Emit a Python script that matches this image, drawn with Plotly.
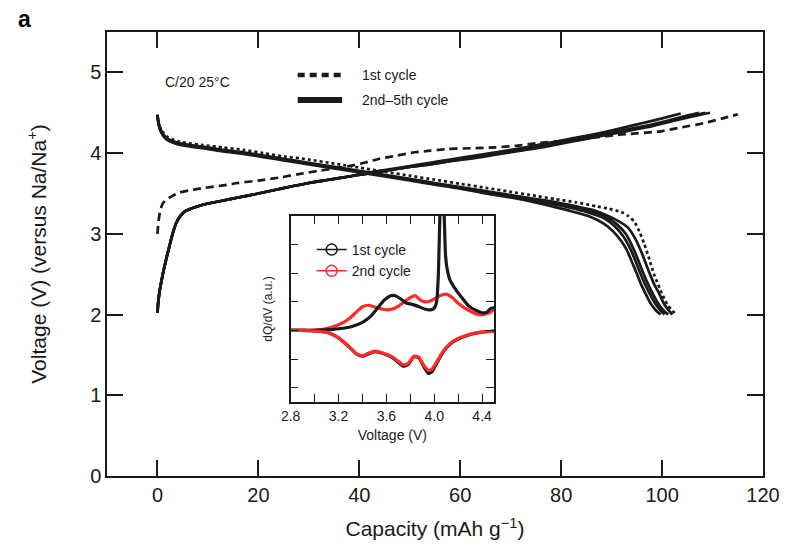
import plotly.graph_objects as go

# ---- Galvanostatic charge/discharge curves (capacity in mAh/g, voltage in V) ----
# 1st cycle charge
cap_c1 = [0, 0.2, 0.5, 1, 1.7, 3, 4.3, 6.5, 9.5, 13, 16, 20, 24.5, 28, 33, 38, 41, 44,
          47.5, 51, 54, 57.5, 62, 67, 71, 75, 80, 86, 92, 99.7, 104, 108.2, 112, 115]
v_c1 = [3.0, 3.15, 3.27, 3.37, 3.42, 3.47, 3.51, 3.54, 3.57, 3.6, 3.63, 3.66, 3.70, 3.74,
        3.79, 3.84, 3.88, 3.93, 3.97, 4.01, 4.03, 4.05, 4.06, 4.07, 4.09, 4.12, 4.15, 4.19,
        4.23, 4.27, 4.32, 4.37, 4.43, 4.48]

# 2nd-5th cycle charges
cap_c2 = [0, 0.15, 0.4, 0.8, 1.3, 1.9, 2.5, 3.1, 3.7, 4.4, 5.5, 7, 9, 12.8, 16, 19.3, 23, 26,
          30, 34, 38, 41, 45, 50, 54, 58, 62, 67, 72, 77, 82, 87, 92, 97, 101, 105, 109.5]
v_c2 = [2.02, 2.15, 2.28, 2.42, 2.57, 2.73, 2.88, 3.02, 3.13, 3.21, 3.28, 3.32, 3.36, 3.41,
        3.45, 3.49, 3.54, 3.58, 3.63, 3.67, 3.71, 3.74, 3.78, 3.83, 3.86, 3.9, 3.93, 3.98,
        4.03, 4.08, 4.14, 4.2, 4.26, 4.32, 4.38, 4.44, 4.5]

cap_c3 = [0, 0.15, 0.4, 0.8, 1.3, 1.9, 2.5, 3.1, 3.7, 4.4, 5.5, 7, 9, 12.8, 16, 19.3, 23, 26,
          30, 34, 38, 41, 45, 50, 54, 58, 62, 67, 72, 77, 82, 87, 92, 97, 101, 105, 108.6]
v_c3 = [2.02, 2.15, 2.28, 2.42, 2.57, 2.73, 2.88, 3.02, 3.13, 3.21, 3.28, 3.32, 3.36, 3.41,
        3.45, 3.49, 3.54, 3.58, 3.63, 3.67, 3.71, 3.74, 3.78, 3.83, 3.86, 3.9, 3.94, 3.99,
        4.04, 4.09, 4.15, 4.21, 4.27, 4.33, 4.39, 4.45, 4.5]

cap_c4 = [0, 0.15, 0.4, 0.8, 1.3, 1.9, 2.5, 3.1, 3.7, 4.4, 5.5, 7, 9, 12.8, 16, 19.3, 23, 26,
          30, 34, 38, 41, 45, 50, 54, 58, 62, 67, 72, 77, 82, 87, 92, 97, 101, 104, 107.3]
v_c4 = [2.02, 2.15, 2.28, 2.42, 2.57, 2.73, 2.88, 3.02, 3.13, 3.21, 3.28, 3.32, 3.36, 3.41,
        3.45, 3.49, 3.54, 3.58, 3.63, 3.67, 3.71, 3.74, 3.78, 3.83, 3.87, 3.91, 3.94, 3.99,
        4.04, 4.1, 4.16, 4.22, 4.28, 4.34, 4.4, 4.45, 4.5]

cap_c5 = [0, 0.15, 0.4, 0.8, 1.3, 1.9, 2.5, 3.1, 3.7, 4.4, 5.5, 7, 9, 12.8, 16, 19.3, 23, 26,
          30, 34, 38, 41, 45, 50, 54, 58, 62, 67, 72, 77, 82, 87, 92, 96, 100, 103.7]
v_c5 = [2.02, 2.15, 2.28, 2.42, 2.57, 2.73, 2.88, 3.02, 3.13, 3.21, 3.28, 3.32, 3.36, 3.41,
        3.45, 3.49, 3.54, 3.58, 3.63, 3.67, 3.71, 3.75, 3.79, 3.84, 3.88, 3.92, 3.96, 4.01,
        4.06, 4.12, 4.18, 4.24, 4.31, 4.37, 4.43, 4.49]

# 1st cycle discharge
cap_d1 = [0, 0.15, 0.4, 0.8, 1.3, 2, 3, 4.5, 6.5, 9, 13, 17, 21, 25, 30, 35, 40, 45, 50, 55,
          60, 65, 70, 75, 78.8, 83, 87, 89.5, 91.9, 93.3, 94.5, 95.5, 96.5, 97.5, 98.4, 99.5,
          100.4, 101.2, 102, 102.8]
v_d1 = [4.48, 4.41, 4.34, 4.28, 4.24, 4.20, 4.17, 4.14, 4.12, 4.10, 4.07, 4.04, 4.00, 3.96,
        3.92, 3.87, 3.82, 3.77, 3.72, 3.67, 3.62, 3.57, 3.52, 3.47, 3.43, 3.39, 3.34, 3.31,
        3.27, 3.22, 3.15, 3.03, 2.87, 2.68, 2.5, 2.33, 2.2, 2.11, 2.05, 2.0]

# 2nd-5th cycle discharges
cap_d2 = [0, 0.15, 0.4, 0.8, 1.3, 2, 3, 4.5, 6.5, 9, 13, 17, 21, 25, 30, 35, 40, 45, 50, 55,
          60, 65, 70, 75, 79, 83, 86, 88.6, 91, 93.2, 94.6, 95.8, 97.1, 98.4, 99.5, 100.4,
          101.2, 102]
v_d2 = [4.47, 4.40, 4.33, 4.27, 4.22, 4.18, 4.15, 4.12, 4.10, 4.08, 4.04, 4.01, 3.97, 3.93,
        3.88, 3.83, 3.78, 3.73, 3.68, 3.63, 3.58, 3.53, 3.48, 3.43, 3.39, 3.34, 3.30, 3.24,
        3.17, 3.08, 2.95, 2.79, 2.58, 2.38, 2.25, 2.13, 2.06, 2.0]

cap_d3 = [0, 0.15, 0.4, 0.8, 1.3, 2, 3, 4.5, 6.5, 9, 13, 17, 21, 25, 30, 35, 40, 45, 50, 55,
          60, 65, 70, 75, 79, 82, 85, 88.6, 91, 92.8, 94, 95.1, 96.1, 97.2, 98.3, 99.4,
          100.3, 101.2]
v_d3 = [4.47, 4.40, 4.32, 4.26, 4.21, 4.17, 4.14, 4.11, 4.09, 4.07, 4.03, 4.0, 3.96, 3.92,
        3.87, 3.82, 3.77, 3.72, 3.67, 3.62, 3.57, 3.52, 3.47, 3.42, 3.37, 3.34, 3.30, 3.22,
        3.12, 3.0, 2.86, 2.7, 2.54, 2.38, 2.24, 2.12, 2.05, 2.0]

cap_d4 = [0, 0.15, 0.4, 0.8, 1.3, 2, 3, 4.5, 6.5, 9, 13, 17, 21, 25, 30, 35, 40, 45, 50, 55,
          60, 65, 70, 75, 79, 82, 85, 88.6, 90.5, 92.3, 93.5, 94.5, 95.5, 96.6, 97.7, 98.8,
          99.7, 100.5]
v_d4 = [4.47, 4.39, 4.32, 4.26, 4.21, 4.17, 4.14, 4.11, 4.09, 4.07, 4.03, 4.0, 3.96, 3.92,
        3.87, 3.82, 3.77, 3.72, 3.67, 3.62, 3.57, 3.51, 3.46, 3.41, 3.36, 3.32, 3.27, 3.19,
        3.1, 2.97, 2.84, 2.7, 2.54, 2.38, 2.24, 2.12, 2.05, 2.0]

cap_d5 = [0, 0.15, 0.4, 0.8, 1.3, 2, 3, 4.5, 6.5, 9, 13, 17, 21, 25, 30, 35, 40, 45, 50, 55,
          60, 65, 70, 74, 78.8, 82, 85.4, 88.6, 90.3, 91.9, 93, 93.9, 94.9, 95.8, 96.8, 97.8,
          98.8, 99.7]
v_d5 = [4.47, 4.39, 4.31, 4.25, 4.20, 4.16, 4.13, 4.10, 4.08, 4.06, 4.02, 3.99, 3.95, 3.91,
        3.86, 3.81, 3.76, 3.71, 3.66, 3.61, 3.56, 3.50, 3.45, 3.40, 3.33, 3.28, 3.22, 3.12,
        3.03, 2.91, 2.80, 2.67, 2.52, 2.38, 2.25, 2.13, 2.05, 2.0]

# ---- Differential capacity (inset), arbitrary units ----
v_chg_1 = [2.8, 2.9, 3.0, 3.1, 3.2, 3.3, 3.4, 3.47, 3.53, 3.58, 3.63, 3.67, 3.72, 3.77, 3.81,
           3.86, 3.92, 3.97, 4.0, 4.02, 4.035, 4.05, 4.065, 4.08, 4.095, 4.11, 4.13, 4.18,
           4.24, 4.29, 4.35, 4.40, 4.44, 4.47, 4.5]
dq_chg_1 = [0, 0, 0, 0.02, 0.06, 0.12, 0.28, 0.5, 0.8, 1.05, 1.2, 1.22, 1.1, 0.95, 0.92,
            0.85, 0.75, 0.72, 0.78, 1.0, 2.0, 4.5, 6.0, 4.5, 2.6, 2.1, 1.78, 1.43, 1.1, 0.85,
            0.7, 0.62, 0.64, 0.76, 0.8]
v_chg_2 = [2.8, 2.9, 3.0, 3.05, 3.1, 3.15, 3.2, 3.25, 3.3, 3.35, 3.4, 3.45, 3.5, 3.55, 3.6,
           3.65, 3.7, 3.75, 3.8, 3.84, 3.88, 3.92, 3.96, 4.0, 4.05, 4.1, 4.15, 4.2, 4.25, 4.3,
           4.35, 4.4, 4.45, 4.5]
dq_chg_2 = [0, 0, 0.01, 0.03, 0.07, 0.12, 0.2, 0.3, 0.45, 0.65, 0.83, 0.88, 0.82, 0.76, 0.72,
            0.75, 0.85, 1.0, 1.15, 1.22, 1.08, 1.0, 1.02, 1.1, 1.22, 1.27, 1.15, 0.95, 0.8,
            0.68, 0.58, 0.55, 0.6, 0.73]
v_dis_1 = [2.8, 2.9, 3.0, 3.1, 3.15, 3.2, 3.25, 3.3, 3.35, 3.4, 3.45, 3.5, 3.55, 3.6, 3.65,
           3.7, 3.74, 3.78, 3.83, 3.87, 3.91, 3.95, 3.98, 4.02, 4.06, 4.1, 4.15, 4.2, 4.3,
           4.4, 4.5]
dq_dis_1 = [0, 0, -0.02, -0.06, -0.14, -0.26, -0.43, -0.62, -0.82, -0.9, -0.82, -0.74, -0.78,
            -0.85, -0.95, -1.12, -1.25, -1.2, -0.92, -0.95, -1.25, -1.5, -1.45, -1.15, -0.85,
            -0.62, -0.42, -0.3, -0.14, -0.06, -0.02]
v_dis_2 = [2.8, 2.9, 3.0, 3.1, 3.15, 3.2, 3.25, 3.3, 3.35, 3.4, 3.45, 3.5, 3.55, 3.6, 3.65,
           3.7, 3.74, 3.78, 3.83, 3.87, 3.91, 3.95, 3.98, 4.02, 4.06, 4.1, 4.15, 4.2, 4.3,
           4.4, 4.5]
dq_dis_2 = [0, 0, -0.02, -0.06, -0.14, -0.26, -0.43, -0.62, -0.82, -0.88, -0.8, -0.72, -0.76,
            -0.83, -0.92, -1.08, -1.2, -1.16, -0.9, -0.93, -1.2, -1.4, -1.36, -1.1, -0.82,
            -0.6, -0.4, -0.28, -0.13, -0.06, -0.02]

main_xticks = [0, 20, 40, 60, 80, 100, 120]
main_yticks = [0, 1, 2, 3, 4, 5]
inset_xticks = [2.8, 3.2, 3.6, 4.0, 4.4]

FONT = "Liberation Sans, Arial, Helvetica, sans-serif"
INK = "#1a1a1a"
RED = "#ff2a2a"

fig = go.Figure()

# main curves: charges and discharges of cycles 2-5 (solid)
for cx, vy in [(cap_c2, v_c2), (cap_c3, v_c3), (cap_c4, v_c4), (cap_c5, v_c5),
               (cap_d2, v_d2), (cap_d3, v_d3), (cap_d4, v_d4), (cap_d5, v_d5)]:
    fig.add_trace(go.Scatter(x=cx, y=vy, mode="lines", showlegend=False,
                             line=dict(color=INK, width=2.7, shape="spline", smoothing=0.6)))

# 1st cycle (dashed charge, dotted discharge)
fig.add_trace(go.Scatter(x=cap_c1, y=v_c1, mode="lines", showlegend=False,
                         line=dict(color=INK, width=2.7, dash="8px,5px",
                                   shape="spline", smoothing=0.6)))
fig.add_trace(go.Scatter(x=cap_d1, y=v_d1, mode="lines", showlegend=False,
                         line=dict(color=INK, width=2.7, dash="3px,3px",
                                   shape="spline", smoothing=0.6)))

# inset dQ/dV curves
for vx, dq, col in [(v_chg_2, dq_chg_2, RED), (v_chg_1, dq_chg_1, INK),
                    (v_dis_1, dq_dis_1, INK), (v_dis_2, dq_dis_2, RED)]:
    fig.add_trace(go.Scatter(x=vx, y=dq, mode="lines", xaxis="x2", yaxis="y2",
                             showlegend=False, cliponaxis=True,
                             line=dict(color=col, width=3.2, shape="spline", smoothing=0.5)))

# inset legend entries
fig.add_trace(go.Scatter(x=[None], y=[None], mode="lines+markers", name="1st cycle",
                         xaxis="x2", yaxis="y2", legend="legend2",
                         line=dict(color=INK, width=1.5),
                         marker=dict(symbol="circle-open", size=11, color=INK,
                                     line=dict(width=1.5))))
fig.add_trace(go.Scatter(x=[None], y=[None], mode="lines+markers", name="2nd cycle",
                         xaxis="x2", yaxis="y2", legend="legend2",
                         line=dict(color=RED, width=1.5),
                         marker=dict(symbol="circle-open", size=11, color=RED,
                                     line=dict(width=1.5))))

axis_common = dict(showgrid=False, zeroline=False, showline=True, linecolor=INK,
                   linewidth=1.5, ticks="inside", mirror="ticks", tickcolor=INK)

fig.update_layout(
    width=792, height=549,
    margin=dict(l=107, r=21, t=32, b=73),
    paper_bgcolor="white", plot_bgcolor="white",
    font=dict(family=FONT, color=INK),
    xaxis=dict(range=[-10, 120], tickvals=main_xticks,
               ticklen=16, tickwidth=1.5, tickfont=dict(size=20),
               title=dict(text="Capacity (mAh g<sup>−1</sup>)", font=dict(size=21),
                          standoff=17),
               **axis_common),
    yaxis=dict(range=[0, 5.5], tickvals=main_yticks,
               ticklen=16, tickwidth=1.5, tickfont=dict(size=20),
               title=dict(text="Voltage (V) (versus Na/Na<sup>+</sup>)", font=dict(size=21),
                          standoff=38),
               **axis_common),
    xaxis2=dict(domain=[0.280, 0.590], anchor="y2", range=[2.8, 4.5],
                tickvals=inset_xticks, tickformat=".1f", ticklen=8, tickwidth=1.2,
                tickfont=dict(size=14),
                minor=dict(tick0=2.8, dtick=0.2, ticks="inside", ticklen=8,
                           tickwidth=1.2, tickcolor=INK),
                title=dict(text="Voltage (V)", font=dict(size=14), standoff=8),
                **axis_common),
    yaxis2=dict(domain=[0.1667, 0.5856], anchor="x2", range=[-2.5, 4], dtick=1,
                showticklabels=False, ticklen=8, tickwidth=1.2,
                title=dict(text="dQ/dV (a.u.)", font=dict(size=12), standoff=14),
                **axis_common),
    showlegend=True,
    legend2=dict(x=0.312, y=0.545, xanchor="left", yanchor="top",
                 bgcolor="rgba(0,0,0,0)", font=dict(size=14, color=INK),
                 tracegroupgap=0, itemwidth=30),
)

# main legend keys and labels
fig.add_shape(type="line", xref="paper", yref="paper", x0=0.2907, x1=0.3584,
              y0=0.9032, y1=0.9032, line=dict(color=INK, width=4.5, dash="7px,5px"))
fig.add_shape(type="line", xref="paper", yref="paper", x0=0.2907, x1=0.3584,
              y0=0.8468, y1=0.8468, line=dict(color=INK, width=6))
fig.add_annotation(text="1st cycle", xref="paper", yref="paper", x=0.385, y=0.9032,
                   xanchor="left", yanchor="middle", showarrow=False,
                   font=dict(size=14, color=INK))
fig.add_annotation(text="2nd–5th cycle", xref="paper", yref="paper", x=0.385, y=0.8468,
                   xanchor="left", yanchor="middle", showarrow=False,
                   font=dict(size=14, color=INK))
fig.add_annotation(text="C/20 25°C", xref="paper", yref="paper", x=0.086, y=0.888,
                   xanchor="left", yanchor="middle", showarrow=False,
                   font=dict(size=14, color=INK))
fig.add_annotation(text="<b>a</b>", xref="paper", yref="paper", x=-0.138, y=1.03,
                   xanchor="left", yanchor="middle", showarrow=False,
                   font=dict(size=23, color="black"))

fig.write_html("out.html")
